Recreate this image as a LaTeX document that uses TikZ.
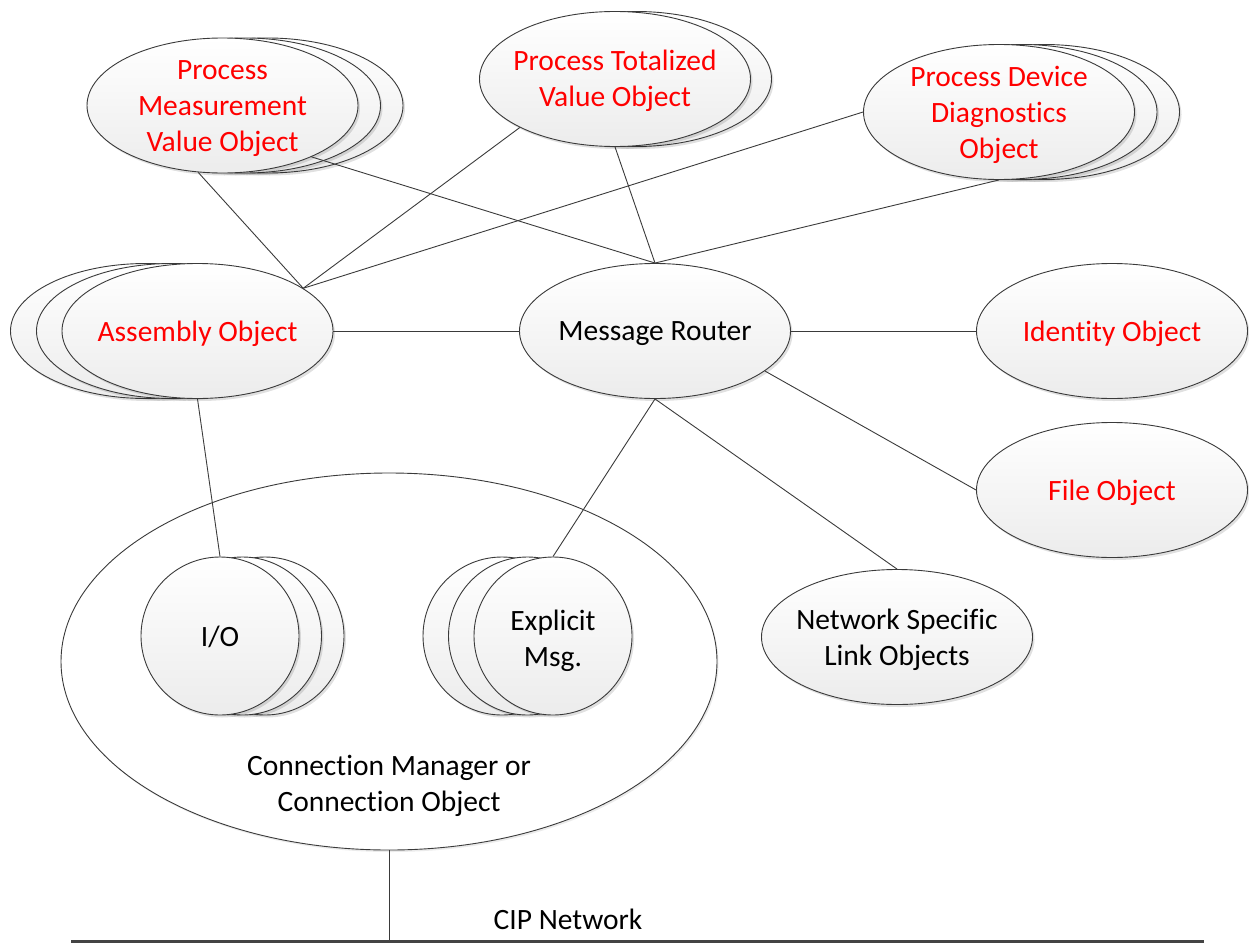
\documentclass[tikz,border=0pt]{standalone}
\usepackage{fontspec}
\setmainfont{Carlito}[Ligatures={NoCommon,NoContextual}]
\usetikzlibrary{shapes.geometric,shadows}

\definecolor{objred}{HTML}{FF0000}
\definecolor{edgegray}{HTML}{3A3A3A}
\definecolor{shadegray}{HTML}{ECECEC}
\definecolor{busgray}{HTML}{444444}

\tikzset{
  cipobj/.style={ellipse, draw=edgegray, line width=0.9pt,
    top color=white, bottom color=shadegray,
    minimum width=271pt, minimum height=135pt, inner sep=0pt,
    drop shadow={shadow xshift=2pt, shadow yshift=-2.5pt, opacity=0.12, fill=black}},
  conncirc/.style={cipobj, minimum width=158pt, minimum height=158pt},
  holder/.style={ellipse, draw=edgegray, line width=0.9pt, fill=white,
    minimum width=656pt, minimum height=377pt, inner sep=0pt,
    drop shadow={shadow xshift=1.5pt, shadow yshift=-2pt, opacity=0.08, fill=black}},
  txt/.style={align=center, inner sep=0pt, font=\fontsize{29.5}{36}\selectfont, text=black},
  opt/.style={txt, text=objred},
  link/.style={draw=edgegray, line width=0.9pt},
  bus/.style={draw=busgray, line width=3pt}
}

\begin{document}
\begin{tikzpicture}[x=1pt, y=-1pt]
\useasboundingbox (0,0) rectangle (1249,942);

% --- connection manager with its I/O and explicit message connections
\node[holder] (conn) at (389,661.5) {};
\node[txt] (conn-t) at (389,786) {Connection Manager or\\Connection Object};

\node[conncirc] (io-b2) at (265,636) {};
\node[conncirc] (io-b1) at (242.5,636) {};
\node[conncirc] (io) at (220,636) {};
\node[txt] (io-t) at (220,637) {I/O};

\node[conncirc] (exp-b2) at (502,636) {};
\node[conncirc] (exp-b1) at (527.5,636) {};
\node[conncirc] (exp) at (553,636) {};
\node[txt] (exp-t) at (553,641) {Explicit\\Msg.};

% --- process objects (top row)
\node[cipobj] (pmvo-b2) at (267.5,105.5) {};
\node[cipobj] (pmvo-b1) at (245,105.5) {};
\node[cipobj] (pmvo) at (222.5,105.5) {};
\node[opt] (pmvo-t) at (222.5,108.5) {Process\\Measurement\\Value Object};

\node[cipobj] (ptvo-b1) at (636,79) {};
\node[cipobj] (ptvo) at (615,79) {};
\node[opt] (ptvo-t) at (615,81) {Process Totalized\\Value Object};

\node[cipobj] (pddo-b2) at (1044,112) {};
\node[cipobj] (pddo-b1) at (1021.5,112) {};
\node[cipobj] (pddo) at (999,112) {};
\node[opt] (pddo-t) at (999,114.5) {Process Device\\Diagnostics\\Object};

% --- middle row
\node[cipobj] (asm-b2) at (146,331) {};
\node[cipobj] (asm-b1) at (172,331) {};
\node[cipobj] (asm) at (197.5,331) {};
\node[opt] (asm-t) at (197.5,334) {Assembly Object};

\node[cipobj] (mr) at (655,331) {};
\node[txt] (mr-t) at (655,334) {Message Router};

\node[cipobj] (ident) at (1112,331) {};
\node[opt] (ident-t) at (1112,334) {Identity Object};

\node[cipobj] (file) at (1112,490) {};
\node[opt] (file-t) at (1112,493) {File Object};

\node[cipobj] (nslo) at (897,637) {};
\node[txt] (nslo-t) at (897,640) {Network Specific\\Link Objects};

% --- CIP network bus
\coordinate (busL) at (71,941);
\coordinate (busR) at (1204,941);
\coordinate (tap) at (389,941);
\node[txt] (net-t) at (568,919) {CIP Network};

% --- connectors
\draw[link] (pmvo.250) -- (asm.22.3);
\draw[link] (pmvo.-30) -- (mr.north);
\draw[link] (ptvo.-153) -- (asm.22.3);
\draw[link] (ptvo.south) -- (mr.north);
\draw[link] (pddo.west) -- (asm.22.3);
\draw[link] (pddo.south) -- (mr.north);
\draw[link] (asm.east) -- (mr.west);
\draw[link] (mr.east) -- (ident.west);
\draw[link] (mr.-20) -- (file.west);
\draw[link] (mr.south) -- (exp.north);
\draw[link] (mr.south) -- (nslo.north);
\draw[link] (asm.south) -- (io.north);
\draw[link] (conn.south) -- (tap);
\draw[bus] (busL) -- (busR);
\end{tikzpicture}
\end{document}
